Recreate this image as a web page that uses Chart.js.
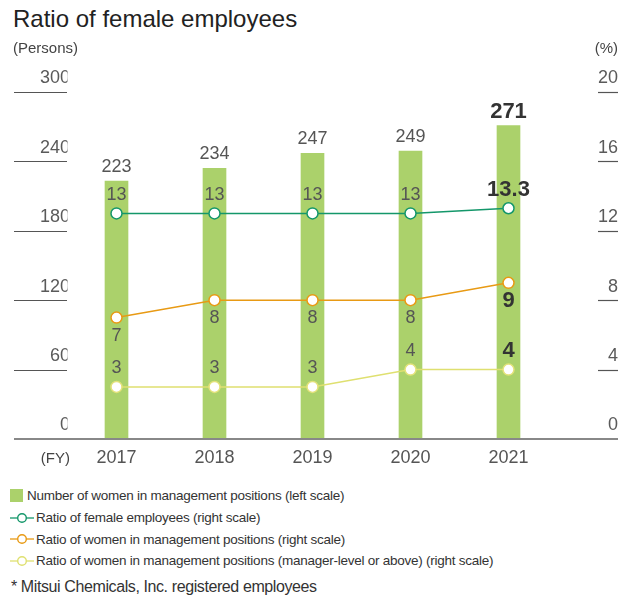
<!DOCTYPE html>
<html>
<head>
<meta charset="UTF-8">
<title>Ratio of female employees</title>
<script src="https://cdn.jsdelivr.net/npm/chart.js"></script>
<style>
body{
  margin:0;
  width:632px;
  height:598px;
  background:#fff;
  font-family:'Liberation Sans',Arial,sans-serif;
  color:#333;
  position:relative;
  overflow:hidden;
}
#title{
  position:absolute;
  left:13px;
  top:5px;
  font-size:24px;
  color:#222;
}
.wrap{
  position:absolute;
  left:0;
  top:0;
  width:632px;
  height:480px;
}
.legend{
  position:absolute;
  left:10px;
  top:485px;
  font-size:13.5px;
  letter-spacing:-0.25px;
  color:#333;
}
.row{
  height:21.7px;
  display:flex;
  align-items:center;
}
.sq{
  width:13px;
  height:13px;
  background:#abd16b;
  margin-right:4px;
}
.mk{margin-right:2px;}
#note{
  position:absolute;
  left:11px;
  top:578px;
  font-size:16px;
  letter-spacing:-0.4px;
  color:#333;
}
</style>
</head>
<body>

<div id="title">Ratio of female employees</div>

<div class="wrap"><canvas id="chart" width="632" height="480"></canvas></div>

<div class="legend">
  <div class="row"><span class="sq"></span>Number of women in management positions (left scale)</div>
  <div class="row"><svg class="mk" width="24" height="12"><line x1="0" y1="6" x2="24" y2="6" stroke="#14976a" stroke-width="1.3"/><circle cx="12" cy="6" r="4.3" fill="#fff" stroke="#14976a" stroke-width="1.4"/></svg>Ratio of female employees (right scale)</div>
  <div class="row"><svg class="mk" width="24" height="12"><line x1="0" y1="6" x2="24" y2="6" stroke="#e89a14" stroke-width="1.3"/><circle cx="12" cy="6" r="4.3" fill="#fff" stroke="#e89a14" stroke-width="1.4"/></svg>Ratio of women in management positions (right scale)</div>
  <div class="row"><svg class="mk" width="24" height="12"><line x1="0" y1="6" x2="24" y2="6" stroke="#dfe070" stroke-width="1.3"/><circle cx="12" cy="6" r="4.3" fill="#fff" stroke="#dfe070" stroke-width="1.4"/></svg>Ratio of women in management positions (manager-level or above) (right scale)</div>
</div>

<div id="note">* Mitsui Chemicals, Inc. registered employees</div>

<script>

// data
const years = ['2017','2018','2019','2020','2021'];
const womenManagers = [223, 234, 247, 249, 271];
const femaleRatio = [13, 13, 13, 13, 13.3];
const managementRatio = [7, 8, 8, 8, 9];
const managerLevelRatio = [3, 3, 3, 4, 4];

const FONT = "'Liberation Sans', Arial, sans-serif";

// where each dataset puts its value labels (px from the point, negative = above)
const labelShift = [-5, -18, 18, -19];

// axis decorations + value labels
const deco = {
  id:'deco',
  afterDraw(chart){
    const c = chart.ctx;
    const y = chart.scales.y, y1 = chart.scales.y1;
    c.save();

    // short tick lines
    c.strokeStyle = '#555';
    c.lineWidth = 1.2;
    y.ticks.forEach(t=>{
      if(t.value===0) return;
      const p = Math.round(y.getPixelForValue(t.value))+0.5;
      c.beginPath(); c.moveTo(14,p); c.lineTo(67,p); c.stroke();
    });
    y1.ticks.forEach(t=>{
      if(t.value===0) return;
      const p = Math.round(y1.getPixelForValue(t.value))+0.5;
      c.beginPath(); c.moveTo(598,p); c.lineTo(618,p); c.stroke();
    });

    // baseline
    c.strokeStyle = '#888';
    c.lineWidth = 2;
    const b = y.getPixelForValue(0);
    c.beginPath(); c.moveTo(14,b); c.lineTo(618,b); c.stroke();

    // unit texts
    c.fillStyle = '#444';
    c.font = '15px '+FONT;
    c.textBaseline = 'middle';
    c.textAlign = 'left';
    c.fillText('(Persons)', 13, 49);
    c.textAlign = 'right';
    c.fillText('(%)', 618, 49);
    c.fillText('(FY)', 70, 459);

    // value labels
    chart.data.datasets.forEach((ds,i)=>{
      const meta = chart.getDatasetMeta(i);
      meta.data.forEach((el,j)=>{
        const last = j===ds.data.length-1;
        c.font = (last ? 'bold 22px ' : '18px ')+FONT;
        c.fillStyle = last ? '#333' : '#555';
        c.textAlign = 'center';
        let ty;
        if(ds.type==='bar'){
          c.textBaseline = 'bottom';
          ty = el.y + labelShift[i] + (last ? 2 : 0);
        }else{
          c.textBaseline = 'middle';
          ty = el.y + labelShift[i];
        }
        c.fillText(String(ds.data[j]), el.x, ty);
      });
    });
    c.restore();
  }
};

const lineStyle = (col, ptBorder)=>({
  type:'line',
  yAxisID:'y1',
  borderColor:col,
  borderWidth:1.5,
  pointRadius:5.5,
  pointBackgroundColor:'#fff',
  pointBorderColor:ptBorder || col,
  pointBorderWidth:1.5,
  tension:0,
  order:1
});

const noPad = s=>{ s.paddingTop = 0; s.paddingBottom = 0; };

new Chart(document.getElementById('chart'),{
  data:{
    labels:years,
    datasets:[
      {type:'bar', label:'Number of women in management positions (left scale)', data:womenManagers,
       backgroundColor:'#abd16b', barThickness:23, yAxisID:'y', order:2},
      Object.assign({label:'Ratio of female employees (right scale)', data:femaleRatio}, lineStyle('#14976a')),
      Object.assign({label:'Ratio of women in management positions (right scale)', data:managementRatio}, lineStyle('#e89a14')),
      Object.assign({label:'Ratio of women in management positions (manager-level or above) (right scale)', data:managerLevelRatio}, lineStyle('#dfe070','#e3e27a'))
    ]
  },
  options:{
    responsive:false,
    animation:false,
    layout:{padding:{top:92, left:0, right:14, bottom:0}},
    plugins:{legend:{display:false}, tooltip:{enabled:false}},
    scales:{
      x:{
        offset:true,
        grid:{display:false, drawTicks:false},
        border:{display:false},
        ticks:{color:'#555', font:{family:FONT, size:18}, padding:8},
        afterFit:s=>{ s.height = 41; s.paddingLeft = 0; s.paddingRight = 0; }
      },
      y:{
        position:'left',
        min:0, max:300,
        ticks:{stepSize:60, color:'#5a5a5a', font:{family:FONT, size:18}, padding:-2.5, labelOffset:-13.5},
        grid:{display:false, drawTicks:false},
        border:{display:false},
        afterFit:s=>{ s.width = 67.5; noPad(s); }
      },
      y1:{
        position:'right',
        min:0, max:20,
        ticks:{stepSize:4, color:'#5a5a5a', font:{family:FONT, size:18}, crossAlign:'far', labelOffset:-13.5},
        grid:{display:false, drawTicks:false},
        border:{display:false},
        afterFit:s=>{ s.width = 60.5; noPad(s); }
      }
    }
  },
  plugins:[deco]
});

</script>
</body>
</html>
